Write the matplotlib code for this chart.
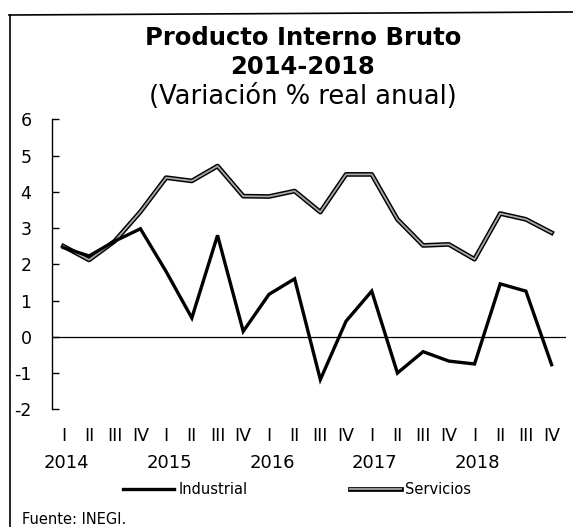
import matplotlib
matplotlib.use("Agg")
import matplotlib.pyplot as plt
import matplotlib.patheffects as pe
from matplotlib.lines import Line2D
from matplotlib.transforms import blended_transform_factory

plt.rcParams['font.family'] = ['DejaVu Sans']

quarters = ["I", "II", "III", "IV"] * 5
years = ["2014", "2015", "2016", "2017", "2018"]
industrial = [2.46, 2.23, 2.64, 2.98, 1.80, 0.52, 2.80, 0.15, 1.17, 1.60,
              -1.18, 0.43, 1.26, -1.00, -0.41, -0.67, -0.75, 1.46, 1.26, -0.77]
servicios = [2.50, 2.12, 2.64, 3.45, 4.39, 4.30, 4.71, 3.88, 3.87, 4.02,
             3.44, 4.48, 4.48, 3.24, 2.52, 2.55, 2.14, 3.40, 3.24, 2.87]
yticks = [-2, -1, 0, 1, 2, 3, 4, 5, 6]

W, H = 573, 527
fig = plt.figure(figsize=(W / 100, H / 100), dpi=100)
fig.patch.set_facecolor("white")

ax = fig.add_axes([52.3 / W, (H - 409.3) / H, 513.7 / W, 290 / H])
x = list(range(len(industrial)))

ax.axhline(0, color="black", lw=0.9, zorder=1)
ax.plot(x, industrial, color="black", lw=2.4, solid_joinstyle="miter",
        label="Industrial", zorder=3)
ax.plot(x, servicios, color="#a8a8a8", lw=1.3, label="Servicios", zorder=2,
        path_effects=[pe.Stroke(linewidth=3.4, foreground="black"), pe.Normal()])

ax.set_xlim(-0.43, 19.56)
ax.set_ylim(-2, 6)
for s in ["top", "right", "bottom"]:
    ax.spines[s].set_visible(False)
ax.spines["left"].set_linewidth(1.0)
ax.set_yticks(yticks)
ax.set_yticklabels([str(v) for v in yticks], fontsize=12.5)
ax.tick_params(axis="y", direction="in", length=5, width=1.0, pad=15)
ax.set_xticks(x)
ax.set_xticklabels(quarters, fontsize=12.5)
ax.tick_params(axis="x", length=0, pad=13)

tr = blended_transform_factory(ax.transData, fig.transFigure)
for k, yr in enumerate(years):
    ax.text(4 * k + 0.12, 1 - 463 / H, yr, transform=tr, ha="center", va="center",
            fontsize=13)

fig.legend(loc="center", bbox_to_anchor=(297 / W, 1 - 490 / H), ncol=2,
           frameon=False, fontsize=10.5, handlelength=3.5, handletextpad=0.3,
           columnspacing=7.0, borderpad=0.0)

fig.text(303 / W, 1 - 38 / H, "Producto Interno Bruto", ha="center", va="center",
         fontsize=17.5, fontweight="bold")
fig.text(303 / W, 1 - 67 / H, "2014-2018", ha="center", va="center",
         fontsize=17.5, fontweight="bold")
fig.text(303 / W, 1 - 97 / H, "(Variación % real anual)", ha="center", va="center",
         fontsize=18.5)
fig.text(22 / W, 1 - 520 / H, "Fuente: INEGI.", ha="left", va="center", fontsize=10.5)

fig.add_artist(Line2D([10 / W, 10 / W], [0, 1 - 15 / H], transform=fig.transFigure,
                      color="black", lw=1.2))
fig.add_artist(Line2D([9 / W, 1], [1 - 15 / H, 1 - 12 / H], transform=fig.transFigure,
                      color="black", lw=1.2))

fig.savefig("out.png", dpi=100, facecolor="white")
